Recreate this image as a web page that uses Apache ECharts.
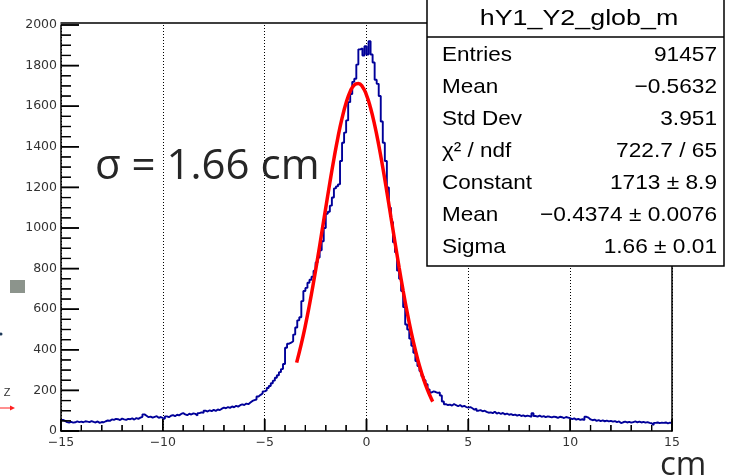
<!DOCTYPE html>
<html><head><meta charset="utf-8">
<script src="https://cdn.jsdelivr.net/npm/echarts@6/dist/echarts.min.js"></script>
<style>html,body{margin:0;padding:0;background:#fff}#c{width:734px;height:475px}</style>
</head><body><div id="c"></div>
<script>
// ---- data ----
const binStart = -15, binWidth = 0.1;
// bins -15.0 .. -5.1
const countsLeftTail = [
  55, 50, 44, 42, 45, 41, 43, 47, 44, 46,
  43, 48, 46, 44, 49, 45, 42, 47, 40, 44,
  43, 48, 52, 50, 57, 55, 60, 58, 54, 61,
  57, 55, 60, 58, 62, 56, 64, 60, 66, 70,
  82, 75, 68, 71, 66, 70, 73, 65, 69, 64,
  60, 72, 68, 75, 78, 73, 80, 77, 84, 88,
  82, 78, 85, 81, 87, 84, 76, 88, 92, 89,
  100, 96, 102, 98, 104, 99, 106, 103, 110, 115,
  112, 118, 114, 121, 117, 124, 120, 127, 131, 128,
  135, 132, 140, 148, 152, 155, 170, 178, 185, 195
];
// bins -5.0 .. 4.9
const countsCore = [
  200, 212, 222, 235, 248, 262, 275, 290, 305, 330,
  410, 430, 435, 442, 475, 510, 545, 560, 640, 690,
  705, 730, 745, 760, 790, 830, 855, 890, 935, 1000,
  1070, 1080, 1110, 1150, 1195, 1205, 1215, 1330, 1420, 1470,
  1530, 1620, 1660, 1720, 1735, 1805, 1880, 1885, 1850, 1895,
  1855, 1920, 1855, 1815, 1730, 1710, 1650, 1525, 1420, 1330,
  1200, 1100, 1030, 930, 880, 790, 750, 690, 610, 525,
  500, 455, 420, 385, 345, 320, 295, 270, 250, 230,
  205, 190, 195, 192, 188, 190, 175, 145, 132, 128,
  130, 125, 133, 127, 122, 128, 120, 124, 118, 115
];
// bins 5.0 .. 14.9
const countsRightTail = [
  118, 112, 105, 110, 100, 103, 97, 100, 94, 90,
  92, 88, 95, 86, 90, 84, 89, 82, 86, 80,
  83, 78, 81, 76, 80, 74, 77, 72, 76, 73,
  70, 88, 74, 71, 76, 70, 73, 68, 72, 70,
  67, 71, 69, 65, 70, 68, 64, 69, 66, 63,
  58, 62, 56, 60, 55, 58, 54, 70, 66, 57,
  53, 56, 50, 54, 49, 52, 48, 51, 47, 50,
  46, 49, 44, 47, 39, 43, 46, 42, 45, 41,
  44, 47, 43, 46, 42, 45, 41, 44, 40, 38,
  30, 40, 42, 39, 41, 40, 42, 38, 41, 40
];
// red fit curve
const fitX = [-3.43, -3.2, -3.0, -2.8, -2.6, -2.4, -2.2, -2.0, -1.8, -1.6, -1.4, -1.2, -1.0, -0.8, -0.6, -0.4,
  -0.2, 0.0, 0.2, 0.4, 0.6, 0.8, 1.0, 1.2, 1.4, 1.6, 1.8, 2.0, 2.2, 2.4, 2.6, 2.8, 3.0, 3.2, 3.25];
const fitY = [337, 429, 520, 622, 733, 851, 975, 1100, 1223, 1340, 1448, 1541, 1617, 1673, 1705, 1712,
  1696, 1655, 1591, 1508, 1409, 1298, 1178, 1053, 929, 807, 691, 583, 485, 398, 321, 256, 201, 155, 145];

// axis ticks
const xMajorTicks = [-15, -10, -5, 0, 5, 10, 15];
const xMinorPerMajor = 5;
const yMajorTicks = [0, 200, 400, 600, 800, 1000, 1200, 1400, 1600, 1800, 2000];
const yMinorPerMajor = 4;

const statsTitle = 'hY1_Y2_glob_m';
const statsLabels = ['Entries', 'Mean', 'Std Dev', 'χ² / ndf', 'Constant', 'Mean', 'Sigma'];
const statsValues = ['91457', '\u22120.5632', '3.951', '722.7 / 65', '1713 \u00b1 8.9', '\u22120.4374 \u00b1 0.0076', '1.66 \u00b1 0.01'];
const annotationText = '\u03c3 = 1.66 cm';
const unitText = 'cm';

// ---- build ----
const counts = countsLeftTail.concat(countsCore, countsRightTail);
const histData = counts.map((c, i) => [+(binStart + i * binWidth).toFixed(2), c]);
histData.push([+(binStart + counts.length * binWidth).toFixed(2), counts[counts.length - 1]]);
const fitData = fitX.map((x, i) => [x, fitY[i]]);

const xMin = xMajorTicks[0], xMax = xMajorTicks[xMajorTicks.length - 1];
const yMin = yMajorTicks[0], yMax = yMajorTicks[yMajorTicks.length - 1];
// tick items: [x, y]; kinds: 0 = x major, 1 = x minor, 2 = y major, 3 = y minor
const tickData = [], tickKind = [];
xMajorTicks.forEach((v, i) => {
  tickData.push([v, yMin]); tickKind.push(0);
  if (i < xMajorTicks.length - 1) {
    const step = (xMajorTicks[i + 1] - v) / xMinorPerMajor;
    for (let k = 1; k < xMinorPerMajor; k++) { tickData.push([v + k * step, yMin]); tickKind.push(1); }
  }
});
yMajorTicks.forEach((v, i) => {
  tickData.push([xMin, v]); tickKind.push(2);
  if (i < yMajorTicks.length - 1) {
    const step = (yMajorTicks[i + 1] - v) / yMinorPerMajor;
    for (let k = 1; k < yMinorPerMajor; k++) { tickData.push([xMin, v + k * step]); tickKind.push(3); }
  }
});
const tickLen = [12, 6, 18, 10];
const tickShape = (p, kind) => kind < 2
  ? {x1: p[0], y1: p[1], x2: p[0], y2: p[1] - tickLen[kind]}
  : {x1: p[0], y1: p[1], x2: p[0] + tickLen[kind], y2: p[1]};

const plain = v => String(v).replace('-', '\u2212');
const black = '#000';
const axisFont = {color: '#333', fontSize: 12.5, fontFamily: 'DejaVu Sans'};
const Z = 100;

const statsGraphics = [
  {type: 'rect', z: Z, shape: {x: 427, y: -1, width: 297, height: 267}, style: {fill: '#fff', stroke: black, lineWidth: 1.5}},
  {type: 'line', z: Z + 1, shape: {x1: 427, y1: 37, x2: 724, y2: 37}, style: {stroke: black, lineWidth: 1.5}},
  {type: 'text', z: Z + 1, x: 579, y: 19, scaleX: 1.22, style: {text: statsTitle, fill: black, font: '22px "Liberation Sans"', align: 'center', verticalAlign: 'middle'}}
];
statsLabels.forEach((l, i) => {
  statsGraphics.push({type: 'text', z: Z + 1, x: 442, y: 55 + i * 32, scaleX: 1.07, style: {text: l, fill: black, font: '21px "Liberation Sans"', align: 'left', verticalAlign: 'middle'}});
  statsGraphics.push({type: 'text', z: Z + 1, x: 717, y: 55 + i * 32, scaleX: 1.08, style: {text: statsValues[i], fill: black, font: '21px "Liberation Sans"', align: 'right', verticalAlign: 'middle'}});
});

const baseGraphics = [
  {type: 'group', z: Z, children: statsGraphics},
  {type: 'text', z: Z, x: 95, y: 167, style: {text: annotationText, fill: '#262626', font: '42px "Open Sans"', align: 'left', verticalAlign: 'middle'}},
  {type: 'text', z: Z, x: 660, y: 466, style: {text: unitText, fill: '#262626', font: '33px "Open Sans"', align: 'left', verticalAlign: 'middle'}},
  {type: 'rect', z: Z, shape: {x: 10, y: 280, width: 15, height: 13}, style: {fill: '#8c948c'}},
  {type: 'circle', z: Z, shape: {cx: 1, cy: 334, r: 1.5}, style: {fill: '#1f3a5a'}},
  {type: 'text', z: Z, x: 7, y: 393, style: {text: 'Z', fill: '#333', font: '11px "Liberation Sans"', align: 'center', verticalAlign: 'middle'}},
  {type: 'line', z: Z, shape: {x1: 0, y1: 408, x2: 12, y2: 408}, style: {stroke: '#ff2020', lineWidth: 1}},
  {type: 'polygon', z: Z, shape: {points: [[10, 405.5], [15, 408], [10, 410.5]]}, style: {fill: '#ff2020'}}
];

const chart = echarts.init(document.getElementById('c'), null, {renderer: 'canvas'});
chart.setOption({
  animation: false,
  backgroundColor: '#fff',
  grid: {left: 61, right: 62, top: 25, bottom: 44},
  xAxis: [{
    type: 'value', min: xMin, max: xMax, interval: 5,
    axisLine: {show: true, onZero: false, lineStyle: {color: black, width: 1.5}},
    axisTick: {show: false}, minorTick: {show: false},
    axisLabel: Object.assign({show: true, margin: 5, formatter: plain}, axisFont),
    splitLine: {show: true, lineStyle: {color: black, type: [1, 2], width: 1}}
  }, {
    type: 'value', position: 'top', min: xMin, max: xMax, offset: 2,
    axisLine: {show: true, onZero: false, lineStyle: {color: black, width: 1.5}},
    axisTick: {show: false}, minorTick: {show: false}, axisLabel: {show: false}, splitLine: {show: false}
  }],
  yAxis: [{
    type: 'value', min: yMin, max: yMax, interval: 200,
    axisLine: {show: true, onZero: false, lineStyle: {color: black, width: 1.5}},
    axisTick: {show: false}, minorTick: {show: false},
    axisLabel: Object.assign({show: true, margin: 4, formatter: plain}, axisFont),
    splitLine: {show: false}
  }, {
    type: 'value', position: 'right', min: yMin, max: yMax,
    axisLine: {show: true, onZero: false, lineStyle: {color: black, width: 1.5}},
    axisTick: {show: false}, minorTick: {show: false}, axisLabel: {show: false}, splitLine: {show: false}
  }],
  series: [{
    type: 'line', name: 'hist', step: 'end', data: histData, showSymbol: false, symbol: 'none',
    xAxisIndex: 0, yAxisIndex: 0,
    lineStyle: {color: '#000099', width: 1.9}, z: 3
  }, {
    type: 'line', name: 'fit', data: fitData, smooth: true, showSymbol: false, symbol: 'none',
    xAxisIndex: 0, yAxisIndex: 0,
    lineStyle: {color: '#ff0000', width: 3.5}, z: 4
  }, {
    type: 'custom', name: 'ticks', data: tickData, xAxisIndex: 0, yAxisIndex: 0,
    clip: false, silent: true, z: 5,
    renderItem: function (params, api) {
      const kind = tickKind[params.dataIndex];
      const p = api.coord(tickData[params.dataIndex]);
      return {type: 'line', shape: tickShape(p, kind), style: {stroke: black, lineWidth: (kind % 2 === 0) ? 1.5 : 1.2}};
    }
  }],
  graphic: baseGraphics
});

// axis ticks placed through the chart's own scales (convertToPixel)
const tickGraphics = tickData.map((d, i) => {
  const p = chart.convertToPixel({gridIndex: 0}, d);
  const kind = tickKind[i];
  return {type: 'line', z: 50, silent: true, shape: tickShape(p, kind), style: {stroke: black, lineWidth: (kind % 2 === 0) ? 1.5 : 1.2}};
});
chart.setOption({graphic: baseGraphics.concat(tickGraphics)});
</script>
</body></html>
